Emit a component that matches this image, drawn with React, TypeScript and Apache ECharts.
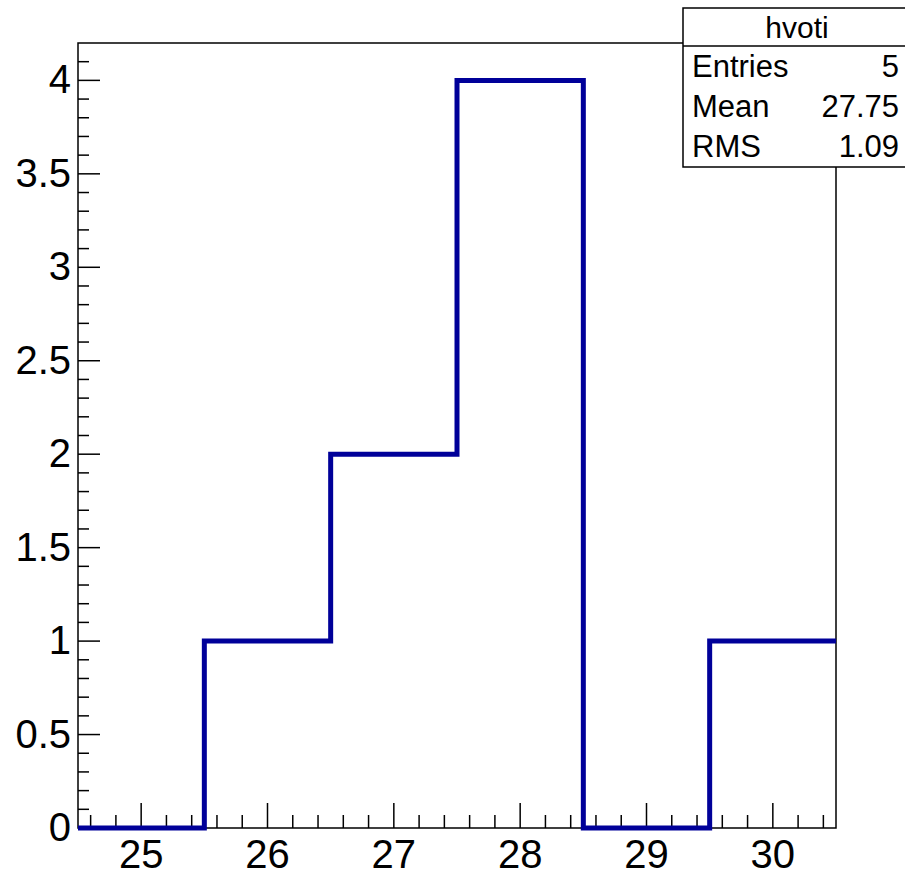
import React, { useEffect, useRef } from "react";
import * as echarts from "echarts";

// ---- data ----
const histName = "hvoti";
const binEdges = [24.5, 25.5, 26.5, 27.5, 28.5, 29.5, 30.5];
const binCounts = [0, 1, 2, 4, 0, 1];
const xMajorTicks = [25, 26, 27, 28, 29, 30];
const xTickLabels = ["25", "26", "27", "28", "29", "30"];
const yMajorTicks = [0, 0.5, 1, 1.5, 2, 2.5, 3, 3.5, 4];
const yTickLabels = ["0", "0.5", "1", "1.5", "2", "2.5", "3", "3.5", "4"];
const statNames = ["Entries", "Mean", "RMS"];
const statValues = ["5", "27.75", "1.09"];

const X_MIN = 24.5;
const X_MAX = 30.5;
const Y_MIN = 0;
const Y_MAX = 4.2;
const X_MINOR_STEP = 0.2;
const Y_MINOR_STEP = 0.1;

function minorTicks(min: number, max: number, step: number, majors: number[]) {
  const out: number[] = [];
  for (let k = Math.ceil(min / step - 1e-9); k * step <= max + 1e-9; k++) {
    const v = Math.round(k * step * 1000) / 1000;
    if (v <= min || v >= max) continue;
    if (majors.some((m) => Math.abs(m - v) < 1e-6)) continue;
    out.push(v);
  }
  return out;
}

const FONT = "Liberation Sans, Arial, Helvetica, sans-serif";

export default function App() {
  const ref = useRef<HTMLDivElement>(null);
  useEffect(() => {
    if (!ref.current) return;
    const chart = echarts.init(ref.current, null, { renderer: "svg" });

    const histPoints: number[][] = [];
    binCounts.forEach((c, i) => {
      histPoints.push([binEdges[i], c]);
      histPoints.push([binEdges[i + 1], c]);
    });

    const xMinor = minorTicks(X_MIN, X_MAX, X_MINOR_STEP, xMajorTicks);
    const yMinor = minorTicks(Y_MIN, Y_MAX, Y_MINOR_STEP, yMajorTicks);

    const tickStyle = { stroke: "#000", lineWidth: 1.5 };

    const xTickSeries = (vals: number[], len: number, labels?: string[]) => ({
      type: "custom",
      coordinateSystem: "cartesian2d",
      clip: false,
      silent: true,
      z: 5,
      data: vals.map((v) => [v, Y_MIN]),
      renderItem: (params: any, api: any) => {
        const p = api.coord([api.value(0), api.value(1)]);
        const children: any[] = [
          { type: "line", shape: { x1: p[0], y1: p[1], x2: p[0], y2: p[1] - len }, style: tickStyle },
        ];
        if (labels) {
          children.push({
            type: "text",
            x: p[0],
            y: p[1] + 26,
            style: {
              text: labels[params.dataIndex],
              font: `40px ${FONT}`,
              fill: "#000",
              textAlign: "center",
              textVerticalAlign: "middle",
            },
          });
        }
        return { type: "group", children };
      },
    });

    const yTickSeries = (vals: number[], len: number, labels?: string[]) => ({
      type: "custom",
      coordinateSystem: "cartesian2d",
      clip: false,
      silent: true,
      z: 5,
      data: vals.map((v) => [X_MIN, v]),
      renderItem: (params: any, api: any) => {
        const p = api.coord([api.value(0), api.value(1)]);
        const children: any[] = [
          { type: "line", shape: { x1: p[0], y1: p[1], x2: p[0] + len, y2: p[1] }, style: tickStyle },
        ];
        if (labels) {
          children.push({
            type: "text",
            x: p[0] - 7,
            y: p[1] - 1,
            style: {
              text: labels[params.dataIndex],
              font: `40px ${FONT}`,
              fill: "#000",
              textAlign: "right",
              textVerticalAlign: "middle",
            },
          });
        }
        return { type: "group", children };
      },
    });

    const boxLeft = 683;
    const boxTop = 8;
    const boxW = 230;
    const titleH = 38;
    const rowH = 40;

    const statTexts: any[] = [];
    statNames.forEach((n, i) => {
      const cy = boxTop + titleH + 20 + i * rowH;
      statTexts.push({
        type: "text",
        x: boxLeft + 9,
        y: cy,
        style: { text: n, font: `31px ${FONT}`, fill: "#000", textAlign: "left", textVerticalAlign: "middle" },
      });
      statTexts.push({
        type: "text",
        x: 899,
        y: cy,
        style: { text: statValues[i], font: `31px ${FONT}`, fill: "#000", textAlign: "right", textVerticalAlign: "middle" },
      });
    });

    chart.setOption({
      animation: false,
      backgroundColor: "#fff",
      grid: {
        left: 78,
        right: 69,
        top: 43,
        bottom: 47,
        show: true,
        borderColor: "#000",
        borderWidth: 1.5,
        backgroundColor: "transparent",
      },
      xAxis: {
        type: "value",
        min: X_MIN,
        max: X_MAX,
        axisLine: { show: false },
        axisTick: { show: false },
        axisLabel: { show: false },
        splitLine: { show: false },
      },
      yAxis: {
        type: "value",
        min: Y_MIN,
        max: Y_MAX,
        axisLine: { show: false },
        axisTick: { show: false },
        axisLabel: { show: false },
        splitLine: { show: false },
      },
      series: [
        {
          type: "line",
          data: histPoints,
          symbol: "none",
          clip: false,
          z: 10,
          lineStyle: { color: "#000099", width: 5, join: "miter", cap: "butt" },
        },
        xTickSeries(xMajorTicks, 25, xTickLabels),
        xTickSeries(xMinor, 13),
        yTickSeries(yMajorTicks, 22, yTickLabels),
        yTickSeries(yMinor, 11),
      ],
      graphic: [
        {
          type: "group",
          z: 100,
          children: [
            {
              type: "rect",
              shape: { x: boxLeft, y: boxTop, width: boxW, height: titleH + rowH * 3 + 1 },
              style: { fill: "#fff", stroke: "#000", lineWidth: 1.5 },
            },
            {
              type: "line",
              shape: { x1: boxLeft, y1: boxTop + titleH, x2: boxLeft + boxW, y2: boxTop + titleH },
              style: { stroke: "#000", lineWidth: 1.5 },
            },
            {
              type: "text",
              x: 797,
              y: boxTop + titleH / 2,
              style: { text: histName, font: `30px ${FONT}`, fill: "#000", textAlign: "center", textVerticalAlign: "middle" },
            },
            ...statTexts,
          ],
        },
      ],
    });
    return () => chart.dispose();
  }, []);

  return (
    <div
      ref={ref}
      style={{ position: "fixed", left: 0, top: 0, width: 905, height: 875, background: "#fff" }}
    />
  );
}
